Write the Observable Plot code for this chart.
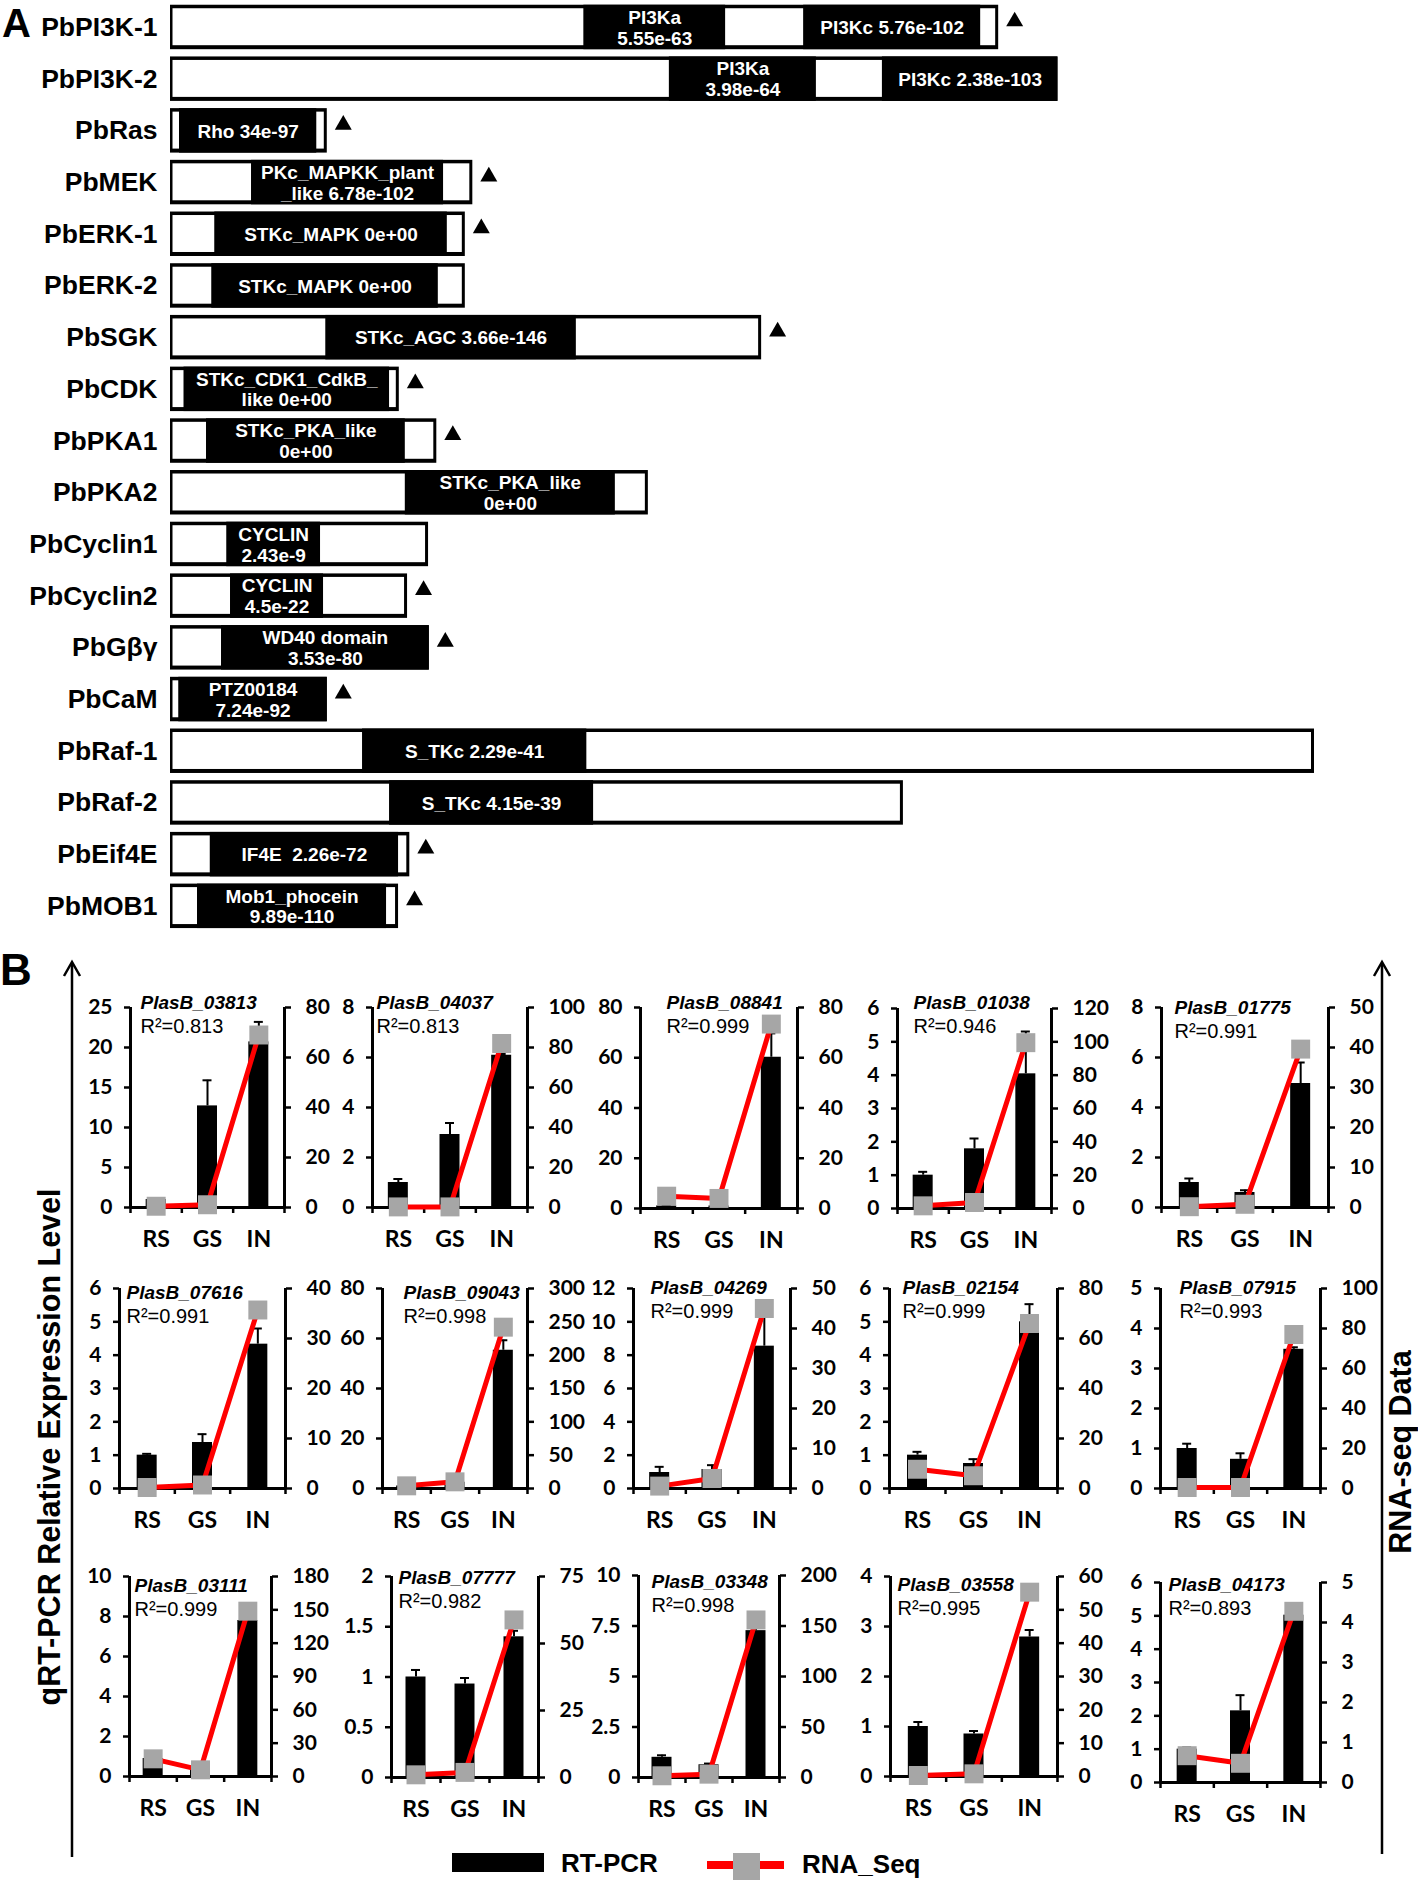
<!DOCTYPE html>
<html><head><meta charset="utf-8">
<script src="https://cdn.jsdelivr.net/npm/d3@7"></script>
<script src="https://cdn.jsdelivr.net/npm/@observablehq/plot@0.6"></script>
<style>
html,body{margin:0;padding:0;background:#fff;}
#fig{position:relative;width:1418px;height:1883px;overflow:hidden;background:#fff;}
#fig svg{position:absolute;}
</style></head><body><div id="fig"></div>
<script>
// ================= PART A DATA =================
const proteins = ["PbPI3K-1","PbPI3K-2","PbRas","PbMEK","PbERK-1","PbERK-2","PbSGK","PbCDK","PbPKA1","PbPKA2","PbCyclin1","PbCyclin2","PbGβγ","PbCaM","PbRaf-1","PbRaf-2","PbEif4E","PbMOB1"];
const proteinLength = [1104,1183,209,403,393,393,788,305,355,637,344,316,345,209,1525,977,319,304];
const marked = [true,false,true,true,true,false,true,true,true,false,false,true,true,true,false,false,true,true];

const domainProtein = ["PbPI3K-1","PbPI3K-1","PbPI3K-2","PbPI3K-2","PbRas","PbMEK","PbERK-1","PbERK-2","PbSGK","PbCDK","PbPKA1","PbPKA2","PbCyclin1","PbCyclin2","PbGβγ","PbCaM","PbRaf-1","PbRaf-2","PbEif4E","PbMOB1"];
const domainStart = [551,844,665,949,12,108,59,55,207,18,48,313,75,80,68,11,256,292,53,36];
const domainEnd   = [740,1080,861,1183,195,364,369,357,541,292,313,593,200,204,345,209,555,564,304,288];
const domainLabel = ["PI3Ka\n5.55e-63","PI3Kc 5.76e-102","PI3Ka\n3.98e-64","PI3Kc 2.38e-103","Rho 34e-97","PKc_MAPKK_plant\n_like 6.78e-102","STKc_MAPK 0e+00","STKc_MAPK 0e+00","STKc_AGC 3.66e-146","STKc_CDK1_CdkB_\nlike 0e+00","STKc_PKA_like\n0e+00","STKc_PKA_like\n0e+00","CYCLIN\n2.43e-9","CYCLIN\n4.5e-22","WD40 domain\n3.53e-80","PTZ00184\n7.24e-92","S_TKc 2.29e-41","S_TKc 4.15e-39","IF4E  2.26e-72","Mob1_phocein\n9.89e-110"];

// ================= PART B DATA =================
const stages = ["RS","GS","IN"];
const genes = ["PlasB_03813","PlasB_04037","PlasB_08841","PlasB_01038","PlasB_01775","PlasB_07616","PlasB_09043","PlasB_04269","PlasB_02154","PlasB_07915","PlasB_03111","PlasB_07777","PlasB_03348","PlasB_03558","PlasB_04173"];
const r2 = ["0.813","0.813","0.999","0.946","0.991","0.991","0.998","0.999","0.999","0.993","0.999","0.982","0.998","0.995","0.893"];
const qpcrMean = [
  [1.0,12.7,20.7],[1.0,2.92,6.09],[1.0,1.0,60.2],[1.0,1.79,4.04],[1.0,0.6,4.96],
  [1.0,1.38,4.33],[1.0,2.5,55.3],[0.96,1.14,8.54],[1.0,0.75,5.0],[1.0,0.73,3.48],
  [0.9,0.3,7.8],[1.0,0.93,1.40],[1.0,0.63,7.27],[1.0,0.85,2.79],[1.0,2.15,5.02]
];
const qpcrErr = [
  [0.1,3.2,2.5],[0.14,0.46,0.05],[0.1,0.1,9.5],[0.1,0.31,1.27],[0.16,0.09,0.84],
  [0.04,0.25,0.47],[0.2,0.5,4.0],[0.34,0.26,1.9],[0.1,0.13,0.53],[0.12,0.15,0.05],
  [0.05,0.05,0.3],[0.07,0.06,0.06],[0.1,0.06,0.3],[0.09,0.06,0.14],[0.05,0.47,0.1]
];
const rnaSeq = [
  [0.5,1.1,69],[0.3,0.3,82],[4.9,4.0,73.4],[1.6,3.6,99.5],[0.2,0.8,39.6],
  [0.2,0.7,35.7],[4,10,242],[0.6,2.5,45],[7.7,5.1,66],[0.5,0.5,77],
  [15.9,6,148.8],[1.0,1.9,58.8],[1.7,3.3,156],[0.3,0.8,55.3],[0.67,0.48,4.28]
];
const leftMax   = [25,8,80,6,8, 6,80,12,6,5, 10,2,10,4,6];
const leftStep  = [5,2,20,1,2, 1,20,2,1,1, 2,0.5,2.5,1,1];
const rightMax  = [80,100,80,120,50, 40,300,50,80,100, 180,75,200,60,5];
const rightStep = [20,20,20,20,10, 10,50,10,20,20, 30,25,50,10,1];

// ================= LAYOUT (not data) =================
const panelX1 = [130,372,640,897,1161, 119,382,633,889,1160, 129,391,638,890,1160];
const panelX2 = [284,527,797,1051,1328, 285,527,790,1057,1320, 271,538,779,1057,1320];
const panelTop = [1007,1007,1007,1008,1007, 1288,1288,1288,1288,1288, 1576,1576,1575,1576,1582];
const panelZero = [1207,1207,1208,1208,1207, 1488,1488,1488,1488,1488, 1776,1777,1777,1776,1782];
const titleDx = [10,4,26,16,13, 7,21,17,13,19, 5,7,13,7,8];
const titleDy = [1,1,1,0,6, 10,10,5,5,5, 15,7,12,14,8];

const fig = document.getElementById("fig");
const ARIAL = "Liberation Sans, Arial, sans-serif";
const TICKFONT = "Lato, Calibri, sans-serif";

// ================= PART A =================
const protTable = proteins.map((name, i) => ({name, len: proteinLength[i], marked: marked[i]}));
const domTable = domainProtein.map((p, i) => ({protein: p, start: domainStart[i], end: domainEnd[i], label: domainLabel[i]}));

const partA = Plot.plot({
  width: 1418, height: 937,
  marginLeft: 170, marginRight: 104, marginTop: 0, marginBottom: 0,
  x: {domain: [0, d3.max(proteinLength)], axis: null},
  y: {domain: proteins, padding: 0.14, range: [-2.5, 935.3], round: false, axis: null},
  style: {background: "transparent", overflow: "visible", maxWidth: "none", fontFamily: ARIAL},
  marks: [
    Plot.barX(protTable, {x1: () => 0, x2: "len", y: "name", fill: "black"}),
    Plot.barX(protTable, {x1: () => 0, x2: "len", y: "name", fill: "white", insetTop: 3.5, insetBottom: 4, insetLeft: 2.5, insetRight: 3}),
    Plot.barX(domTable, {x1: "start", x2: "end", y: "protein", fill: "black"}),
    Plot.text(domTable, {x: d => (d.start + d.end) / 2, y: "protein", text: "label", fill: "white", fontSize: 19, fontWeight: "bold", lineHeight: 1.1, fontFamily: ARIAL}),
    Plot.text(protTable, {x: () => 0, y: "name", text: "name", textAnchor: "end", dx: -13, fontSize: 26.5, fontWeight: "bold", fill: "black", fontFamily: ARIAL}),
    Plot.dot(protTable.filter(d => d.marked), {x: "len", y: "name", symbol: "triangle", r: 6.3, fill: "black", dx: 16, dy: -6})
  ]
});
partA.style.left = "0px"; partA.style.top = "0px";
fig.appendChild(partA);

// ================= PART B =================
const fmt = v => String(+(+v).toFixed(4));
genes.forEach((gene, i) => {
  const L = panelX1[i], R = panelX2[i], T = panelTop[i], Z = panelZero[i];
  const w = R - L, h = Z - T;
  const mL = 80, mR = 80, mT = 40, mB = 60;
  const k = leftMax[i] / rightMax[i];
  const rows = stages.map((s, j) => ({j, stage: s, q: qpcrMean[i][j], e: qpcrErr[i][j], r: rnaSeq[i][j] * k}));
  const bandPx = w / 3;
  const inset = (bandPx - 20) / 2;
  const cap = 4.5 / bandPx;
  const leftTicks = d3.range(0, leftMax[i] + leftStep[i] / 2, leftStep[i]);
  const rightTicks = d3.range(0, rightMax[i] + rightStep[i] / 2, rightStep[i]).map(v => v * k);
  const svg = Plot.plot({
    width: w + mL + mR, height: h + mT + mB,
    marginLeft: mL, marginRight: mR, marginTop: mT, marginBottom: mB,
    x: {domain: [0, 3]},
    y: {domain: [0, leftMax[i]]},
    style: {background: "transparent", overflow: "visible", maxWidth: "none", fontFamily: TICKFONT, fontWeight: "bold", color: "black"},
    marks: [
      Plot.rectY(rows, {x1: d => d.j, x2: d => d.j + 1, y1: () => 0, y2: "q", fill: "black", insetLeft: inset, insetRight: inset}),
      Plot.ruleX(rows, {x: d => d.j + 0.5, y1: "q", y2: d => d.q + d.e, stroke: "black", strokeWidth: 2}),
      Plot.ruleY(rows, {y: d => d.q + d.e, x1: d => d.j + 0.5 - cap, x2: d => d.j + 0.5 + cap, stroke: "black", strokeWidth: 2}),
      Plot.ruleX([0, 3], {x: d => d, y1: () => 0, y2: () => leftMax[i], stroke: "black", strokeWidth: 3}),
      Plot.ruleY([0], {stroke: "black", strokeWidth: 3}),
      Plot.axisY(leftTicks, {anchor: "left", tickSize: 6, tickPadding: 12, strokeWidth: 2.5, fontSize: 21, fontWeight: "bold", fontFamily: TICKFONT, tickFormat: fmt, label: null}),
      Plot.axisY(rightTicks, {anchor: "right", tickSize: 6, tickPadding: 15, strokeWidth: 2.5, fontSize: 21, fontWeight: "bold", fontFamily: TICKFONT, tickFormat: d => fmt(d / k), label: null}),
      Plot.axisX([0, 1, 2, 3], {tickSize: 6, strokeWidth: 2.5, tickFormat: () => "", label: null}),
      Plot.axisX([0.5, 1.5, 2.5], {tickSize: 0, tickPadding: 23, fontSize: 23, fontWeight: "bold", fontFamily: TICKFONT, tickFormat: d => stages[Math.floor(d)], label: null}),
      Plot.line(rows, {x: d => d.j + 0.5, y: "r", stroke: "#ff0000", strokeWidth: 5}),
      Plot.dot(rows, {x: d => d.j + 0.5, y: "r", symbol: "square", r: 10.7, fill: "#a6a6a6"}),
      Plot.text([gene], {frameAnchor: "top-left", dx: titleDx[i], dy: titleDy[i], lineAnchor: "bottom", textAnchor: "start", fontSize: 19, fontStyle: "italic", fontWeight: "bold", fontFamily: ARIAL, fill: "black"}),
      Plot.text([`R²=${r2[i]}`], {frameAnchor: "top-left", dx: titleDx[i], dy: titleDy[i] + 24, lineAnchor: "bottom", textAnchor: "start", fontSize: 20, fontWeight: "normal", fontFamily: ARIAL, fill: "black"})
    ]
  });
  svg.style.left = (L - mL) + "px";
  svg.style.top = (T - mT) + "px";
  fig.appendChild(svg);
});

// ================= DECORATION: panel letters, arrows, titles, legend =================
const deco = `<svg width="1418" height="1883" style="position:absolute;left:0;top:0;pointer-events:none" font-family="${ARIAL}" font-weight="bold">
<text x="2" y="37" font-size="40">A</text>
<text x="0" y="985" font-size="44">B</text>
<line x1="72" y1="963" x2="72" y2="1857" stroke="black" stroke-width="2.5"/>
<polyline points="64,976 72,962 80,976" fill="none" stroke="black" stroke-width="2.5"/>
<line x1="1382" y1="963" x2="1382" y2="1854" stroke="black" stroke-width="2.5"/>
<polyline points="1374,976 1382,962 1390,976" fill="none" stroke="black" stroke-width="2.5"/>
<text transform="translate(59.5,1447) rotate(-90)" text-anchor="middle" font-size="30.5">qRT-PCR Relative Expression Level</text>
<text transform="translate(1411,1452) rotate(-90)" text-anchor="middle" font-size="30.5">RNA-seq Data</text>
<rect x="452" y="1853" width="92" height="19" fill="black"/>
<text x="561" y="1872" font-size="26">RT-PCR</text>
<line x1="707" y1="1865" x2="784" y2="1865" stroke="#ff0000" stroke-width="8"/>
<rect x="733" y="1853" width="27" height="27" fill="#a6a6a6"/>
<text x="802" y="1873" font-size="26">RNA_Seq</text>
</svg>`;
fig.insertAdjacentHTML("beforeend", deco);
</script></body></html>
